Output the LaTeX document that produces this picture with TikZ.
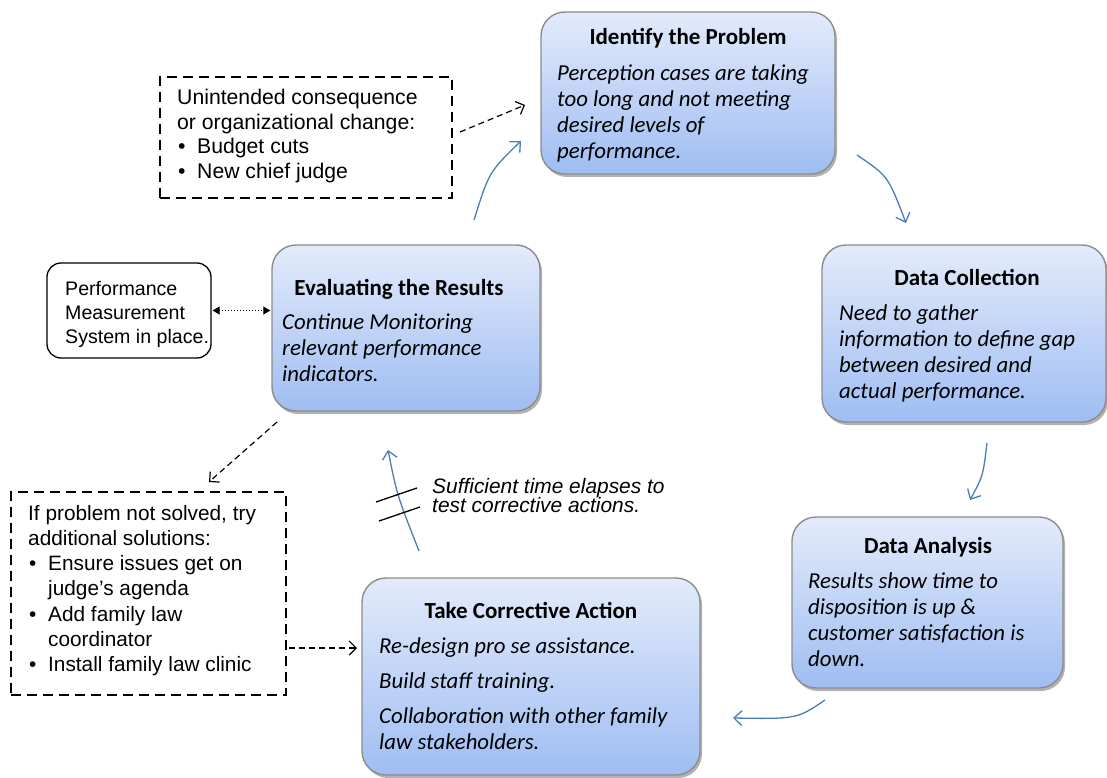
\documentclass[tikz,border=0pt]{standalone}
\usepackage{fontspec}
\setmainfont{Carlito}
\newfontfamily\arialfont{Liberation Sans}
\usetikzlibrary{arrows.meta,shadows}

\definecolor{stagetop}{HTML}{E3EBFB}
\definecolor{stagebot}{HTML}{9FBDF2}
\definecolor{stageline}{HTML}{8C8C8C}
\definecolor{flow}{HTML}{4A7EBB}

% stack of lines whose first baseline is the node's base
\newcommand\linestack[1]{\vtop{#1}}

\tikzset{
  stage/.style={draw=stageline, line width=1.4pt, rounded corners=24pt,
    top color=stagetop, bottom color=stagebot, inner sep=0pt,
    drop shadow={shadow xshift=2pt, shadow yshift=-3pt, fill=black, opacity=0.3}},
  stagehead/.style={anchor=base, inner sep=0pt, font=\fontsize{23}{26}\selectfont\bfseries},
  stagebody/.style={anchor=base west, inner sep=0pt, font=\fontsize{22.8}{26}\selectfont\itshape},
  notebox/.style={draw=black, line width=1.8pt, dash pattern=on 10pt off 6pt, inner sep=0pt},
  perfbox/.style={draw=black, line width=1.3pt, rounded corners=14pt, inner sep=0pt},
  notetext/.style={anchor=base west, inner sep=0pt, font=\arialfont\fontsize{21.2}{24.5}\selectfont},
  flowarrow/.style={draw=flow, line width=1.3pt, -{Straight Barb[length=8pt, width=15pt]}},
  linkarrow/.style={draw=black, line width=1.2pt, dash pattern=on 6pt off 4pt, -{Straight Barb[length=7pt, width=14pt]}},
  dotarrow/.style={draw=black, line width=1pt, dotted, {Triangle[length=7pt, width=8pt]}-{Triangle[length=7pt, width=8pt]}},
  breakmark/.style={draw=black, line width=1.3pt},
}

\newcommand\bul{\makebox[20pt][l]{\hspace*{1pt}•}}

\begin{document}
\begin{tikzpicture}[x=1pt, y=-1pt]
  \useasboundingbox (0,0) rectangle (1107,778);
  \fill[white] (0,0) rectangle (1107,778);

  % --- the five stages of the cycle ---
  \node[stage, minimum width=294pt, minimum height=162pt] (identify) at (688,93) {};
  \node[stagehead] (identify-h) at (688,45) {Identify the Problem};
  \node[stagebody] (identify-b) at (557,81) {\linestack{\hbox{Perception cases are taking}\hbox{too long and not meeting}\hbox{desired levels of}\hbox{performance.}}};

  \node[stage, minimum width=284pt, minimum height=177pt] (collect) at (964,333.5) {};
  \node[stagehead] (collect-h) at (967,285) {Data Collection};
  \node[stagebody] (collect-b) at (839,320) {\linestack{\hbox{Need to gather}\hbox{information to define gap}\hbox{between desired and}\hbox{actual performance.}}};

  \node[stage, minimum width=271pt, minimum height=171pt] (analysis) at (927.5,602.5) {};
  \node[stagehead] (analysis-h) at (928,553) {Data Analysis};
  \node[stagebody] (analysis-b) at (808,588) {\linestack{\hbox{Results show time to}\hbox{disposition is up \&}\hbox{customer satisfaction is}\hbox{down.}}};

  \node[stage, minimum width=338pt, minimum height=197pt] (action) at (531,676.5) {};
  \node[stagehead] (action-h) at (531,618) {Take Corrective Action};
  \node[stagebody] (action-b) at (379,653) {\linestack{\hbox{Re-design pro se assistance.}\vskip 9pt\hbox{Build staff training.}\vskip 9pt\hbox{Collaboration with other family}\hbox{law stakeholders.}}};

  \node[stage, minimum width=268pt, minimum height=166pt] (evaluate) at (406,328) {};
  \node[stagehead] (evaluate-h) at (399,295) {Evaluating the Results};
  \node[stagebody] (evaluate-b) at (282,329) {\linestack{\hbox{Continue Monitoring}\hbox{relevant performance}\hbox{indicators.}}};

  % --- side notes ---
  \node[perfbox, minimum width=164pt, minimum height=95pt] (perf) at (129,310.5) {};
  \node[notetext, font=\arialfont\fontsize{19.6}{24}\selectfont] (perf-t) at (65,295) {\linestack{\hbox{Performance}\hbox{Measurement}\hbox{System in place.}}};

  \node[notebox, minimum width=292pt, minimum height=121pt] (unintended) at (306,137.5) {};
  \node[notetext] (unintended-t) at (177,105) {\linestack{\hbox{Unintended consequence}\hbox{or organizational change:}\hbox{\bul Budget cuts}\hbox{\bul New chief judge}}};

  \node[notebox, minimum width=275pt, minimum height=203pt] (unsolved) at (148.5,593.5) {};
  \node[notetext, font=\arialfont\fontsize{20.8}{25.3}\selectfont] (unsolved-t) at (28,520) {\linestack{\hbox{If problem not solved, try}\hbox{additional solutions:}\hbox{\bul Ensure issues get on}\hbox{\hspace*{20pt}judge’s agenda}\hbox{\bul Add family law}\hbox{\hspace*{20pt}coordinator}\hbox{\bul Install family law clinic}}};

  \node[notetext, font=\arialfont\itshape\fontsize{20.9}{19.5}\selectfont] (elapse-t) at (432,493) {\linestack{\hbox{Sufficient time elapses to}\hbox{test corrective actions.}}};

  % --- cycle arrows ---
  \coordinate (a1s) at (857,155);  \coordinate (a1e) at (906,223);
  \coordinate (a2s) at (987,443);  \coordinate (a2e) at (970,500);
  \coordinate (a3s) at (825,700);  \coordinate (a3e) at (733,718);
  \coordinate (a4s) at (419,551);  \coordinate (a4e) at (388,450);
  \coordinate (a5s) at (474,220);  \coordinate (a5e) at (521,141);
  \draw[flowarrow] (a1s) .. controls (888,176) .. (a1e);
  \draw[flowarrow] (a2s) .. controls (983,476) .. (a2e);
  \draw[flowarrow] (a3s) .. controls (797,719) .. (a3e);
  \draw[flowarrow] (a4s) .. controls (397,495) .. (a4e);
  \draw[flowarrow] (a5s) .. controls (489,172) .. (a5e);

  % break marks across the elapsed-time arrow
  \coordinate (b1s) at (376,502);  \coordinate (b1e) at (417,488);
  \coordinate (b2s) at (379,521);  \coordinate (b2e) at (420,507);
  \draw[breakmark] (b1s) -- (b1e);
  \draw[breakmark] (b2s) -- (b2e);

  % --- links from the side notes ---
  \coordinate (d1s) at (460,132);  \coordinate (d1e) at (525,105);
  \coordinate (d2s) at (277,422);  \coordinate (d2e) at (209,482);
  \coordinate (d3e) at (357,648);
  \draw[linkarrow] (d1s) -- (d1e);
  \draw[linkarrow] (d2s) -- (d2e);
  \draw[linkarrow] (unsolved.east |- d3e) ++(2,0) -- (d3e);
  \draw[dotarrow] (perf.east) ++(1,0) -- ([xshift=-1pt]perf.east -| evaluate.west);
\end{tikzpicture}
\end{document}
